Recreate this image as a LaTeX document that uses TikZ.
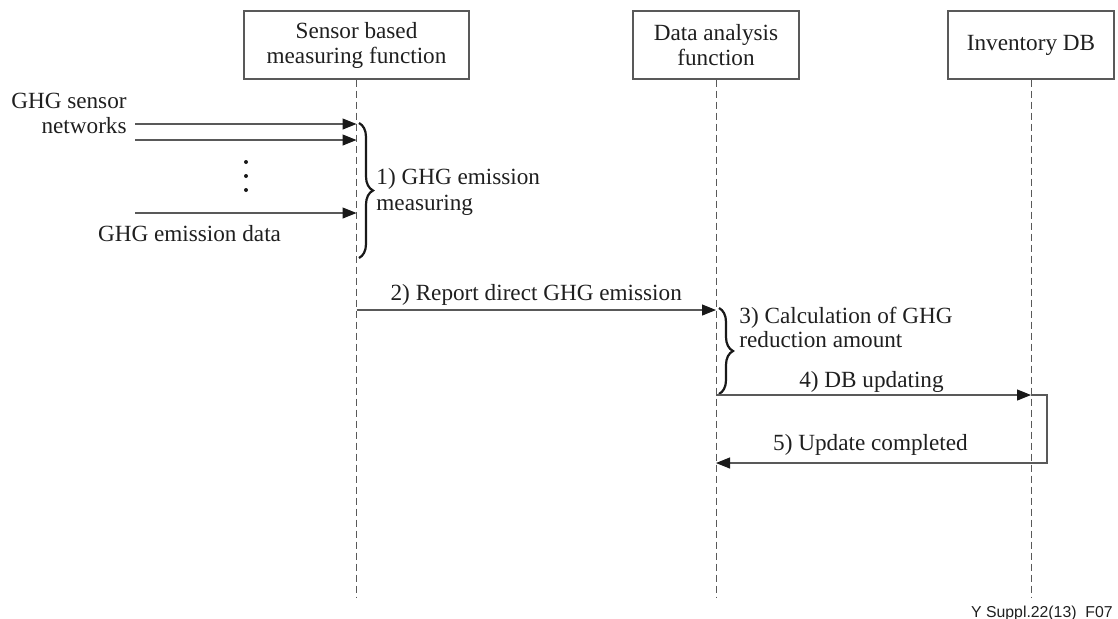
\documentclass[tikz,border=0pt]{standalone}
\usepackage{fontspec}
\setmainfont{Liberation Serif}
\newfontfamily\tagfont{Liberation Sans}
\usetikzlibrary{arrows.meta,decorations.pathreplacing}

\begin{document}
\begin{tikzpicture}[x=0.5pt,y=-0.5pt,
  every node/.style={font=\fontsize{11.6}{12.5}\selectfont, inner sep=0pt, text=black!88},
  entity/.style={draw=black!65, line width=0.55pt, minimum height=34pt, align=center},
  lifeline/.style={draw=black!65, line width=0.5pt, dash pattern=on 3.5pt off 2pt},
  msg/.style={draw=black!65, line width=0.55pt,
    -{Triangle[length=7pt,width=5.5pt,color=black!90,fill=black!90]}},
  grp/.style={draw=black!90, line width=1.1pt, decorate,
    decoration={brace, amplitude=7pt}},
  lbl/.style={anchor=base west},
  dot/.style={fill=black!90}
]
\useasboundingbox (0,0) rectangle (1118,618);
\clip (0,0) rectangle (1118,618);

% participants
\node[entity, minimum width=112.5pt] (smf) at (356.5,45) {Sensor based\\measuring function};
\node[entity, minimum width=83pt] (daf) at (716,45) {Data analysis\\function};
\node[entity, minimum width=83pt] (idb) at (1031,45) {Inventory DB};

% lifelines
\coordinate (smfend) at (smf.south |- 0,597);
\coordinate (dafend) at (daf.south |- 0,597);
\coordinate (idbend) at (idb.south |- 0,597);
\draw[lifeline] (smf.south) -- (smfend);
\draw[lifeline] (daf.south) -- (dafend);
\draw[lifeline] (idb.south) -- (idbend);

% 1) sensor inputs
\coordinate (in1) at (135,124);
\coordinate (in2) at (135,140);
\coordinate (in3) at (135,213);
\coordinate (m1) at (smf.south |- in1);
\coordinate (m2) at (smf.south |- in2);
\coordinate (m3) at (smf.south |- in3);
\draw[msg] (in1) -- (m1);
\draw[msg] (in2) -- (m2);
\draw[msg] (in3) -- (m3);
\node[anchor=base east] (gs1) at (127,108) {GHG sensor};
\node[anchor=base east] (gs2) at (127,133) {networks};
\node[anchor=base] (ged) at (189.5,241) {GHG emission data};
\fill[dot] (246,162) circle (1pt);
\fill[dot] (246,176) circle (1pt);
\fill[dot] (246,190) circle (1pt);

\coordinate (b1top) at (359,123);
\coordinate (b1bot) at (359,258);
\draw[grp] (b1top) -- (b1bot);
\node[lbl] (t1a) at (376,184) {1) GHG emission};
\node[lbl] (t1b) at (376,210) {measuring};

% 2) report
\coordinate (r2s) at (smf.south |- 0,310);
\coordinate (r2e) at (daf.south |- 0,310);
\draw[msg] (r2s) -- node[midway, anchor=base, yshift=5pt] {2) Report direct GHG emission} (r2e);

% 3) calculation
\coordinate (b3top) at (719,308);
\coordinate (b3bot) at (719,394);
\draw[grp] (b3top) -- (b3bot);
\node[lbl] (t3a) at (739,323) {3) Calculation of GHG};
\node[lbl] (t3b) at (739,347) {reduction amount};

% 4) DB updating
\coordinate (u4s) at (daf.south |- 0,395);
\coordinate (u4e) at (idb.south |- 0,395);
\draw[msg] (u4s) -- node[midway, anchor=base, yshift=4pt, xshift=-1pt] {4) DB updating} (u4e);

% 5) update completed
\coordinate (c5a) at (1047,395);
\coordinate (c5b) at (1047,463);
\coordinate (c5e) at (daf.south |- 0,463);
\draw[msg] (u4e) -- (c5a) -- (c5b) -- (c5e);
\node[anchor=base] (t5) at (870.5,450) {5) Update completed};

% figure tag
\node[anchor=base east, font=\tagfont\fontsize{7.9}{9}\selectfont] (tag) at (1113,617) {Y Suppl.22(13)\_F07};
\end{tikzpicture}
\end{document}
